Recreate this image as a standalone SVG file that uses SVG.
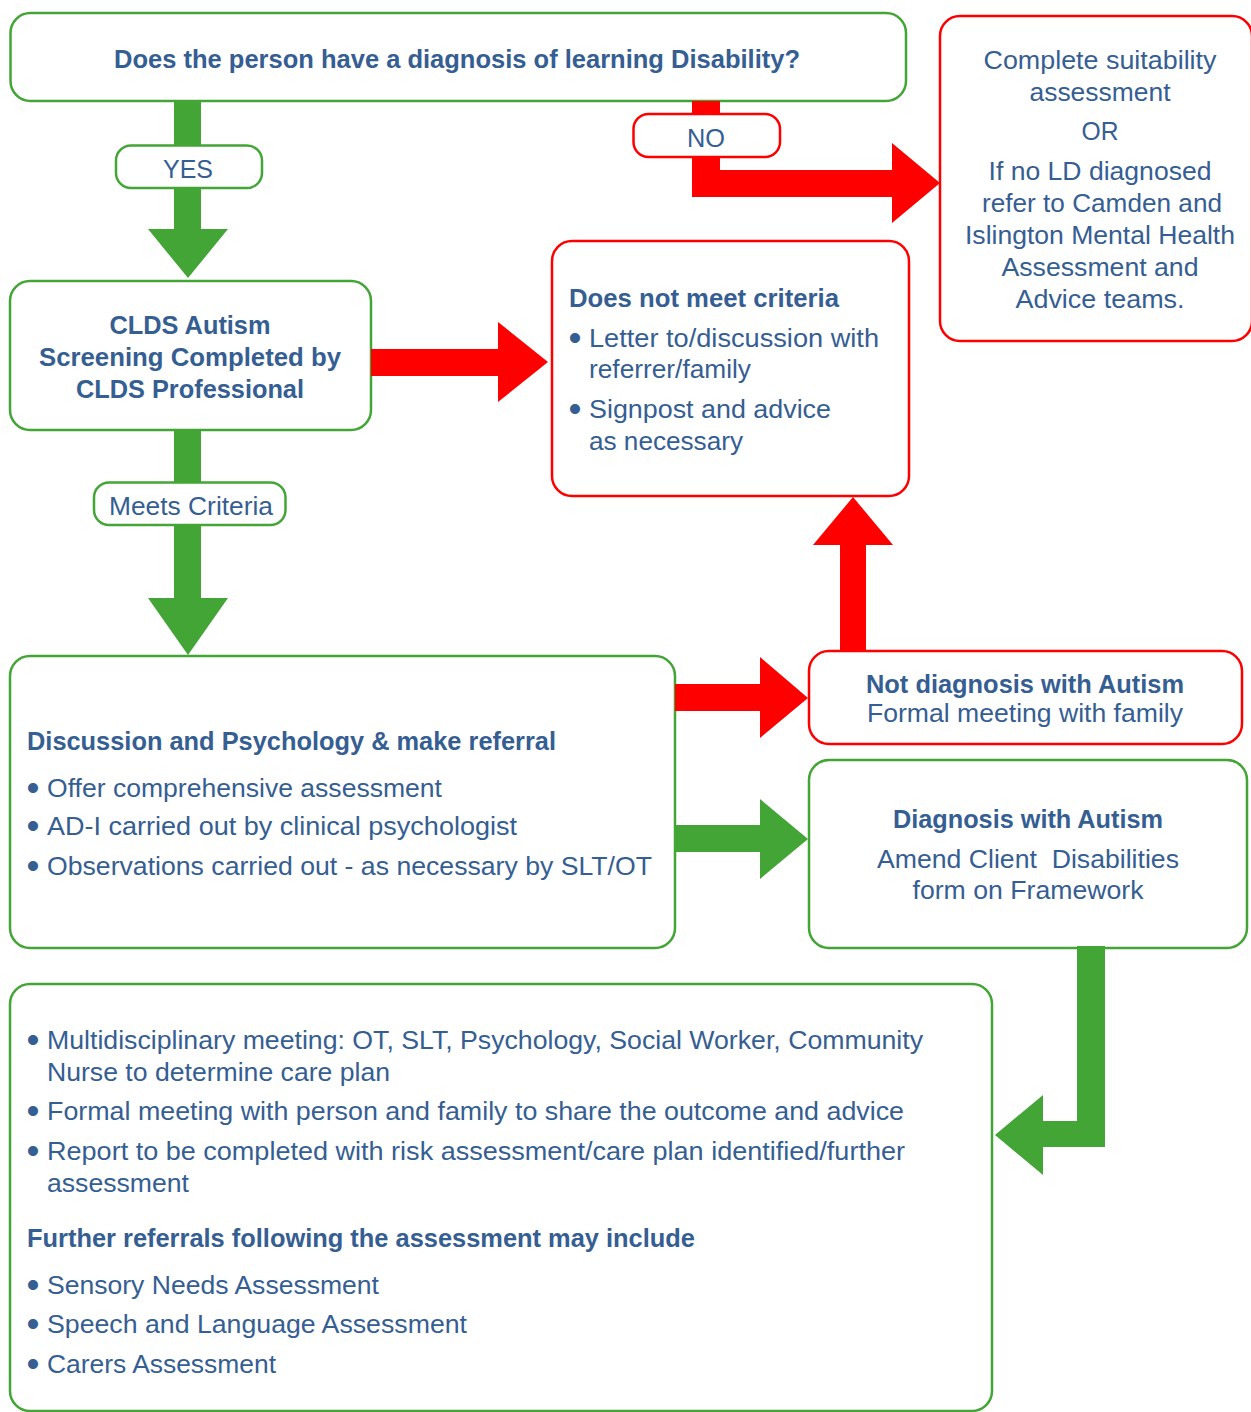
<svg xmlns="http://www.w3.org/2000/svg" width="1251" height="1412" viewBox="0 0 1251 1412">
<style>
.g{fill:#fff;stroke:#43A535;stroke-width:2.5}
.r{fill:#fff;stroke:#FF0000;stroke-width:2.5}
.ga{fill:#43A535}
.ra{fill:#FF0000}
text{font-family:"Liberation Sans",Arial,Helvetica,sans-serif;font-size:26.5px;fill:#355E92}
.b{font-weight:bold;font-size:25.5px}
.c{text-anchor:middle}
.bu{font-size:37px;text-anchor:middle}
</style>
<rect width="1251" height="1412" fill="#fff"/>

<g id="q-diagnosis">
<rect class="g" x="10.5" y="13" width="895.5" height="88" rx="20"/>
<text class="b c" x="457" y="68" textLength="686" lengthAdjust="spacingAndGlyphs">Does the person have a diagnosis of learning Disability?</text>
</g>

<g id="suitability">
<rect class="r" x="940" y="16" width="312" height="325" rx="20"/>
<text class="c" x="1100" y="69" textLength="233" lengthAdjust="spacingAndGlyphs">Complete suitability</text>
<text class="c" x="1100" y="101" textLength="141" lengthAdjust="spacingAndGlyphs">assessment</text>
<text class="c" x="1100" y="140" textLength="37" lengthAdjust="spacingAndGlyphs">OR</text>
<text class="c" x="1100" y="180" textLength="223" lengthAdjust="spacingAndGlyphs">If no LD diagnosed</text>
<text class="c" x="1102" y="212" textLength="240" lengthAdjust="spacingAndGlyphs">refer to Camden and</text>
<text class="c" x="1100" y="244" textLength="270" lengthAdjust="spacingAndGlyphs">Islington Mental Health</text>
<text class="c" x="1100" y="276" textLength="197" lengthAdjust="spacingAndGlyphs">Assessment and</text>
<text class="c" x="1100" y="308" textLength="169" lengthAdjust="spacingAndGlyphs">Advice teams.</text>
</g>

<g id="screening">
<rect class="g" x="10" y="281" width="361" height="149" rx="20"/>
<text class="b c" x="190" y="334" textLength="161" lengthAdjust="spacingAndGlyphs">CLDS Autism</text>
<text class="b c" x="190" y="366" textLength="302" lengthAdjust="spacingAndGlyphs">Screening Completed by</text>
<text class="b c" x="190" y="398" textLength="228" lengthAdjust="spacingAndGlyphs">CLDS Professional</text>
</g>

<g id="not-meet">
<rect class="r" x="552" y="241" width="357" height="255" rx="20"/>
<text class="b" x="569" y="307" textLength="270" lengthAdjust="spacingAndGlyphs">Does not meet criteria</text>
<text class="bu" x="575" y="350">•</text>
<text x="589" y="347" textLength="290" lengthAdjust="spacingAndGlyphs">Letter to/discussion with</text>
<text x="589" y="378" textLength="162" lengthAdjust="spacingAndGlyphs">referrer/family</text>
<text class="bu" x="575" y="421">•</text>
<text x="589" y="418" textLength="242" lengthAdjust="spacingAndGlyphs">Signpost and advice</text>
<text x="589" y="450" textLength="154" lengthAdjust="spacingAndGlyphs">as necessary</text>
</g>

<g id="discussion">
<rect class="g" x="10" y="656" width="665" height="292" rx="20"/>
<text class="b" x="27" y="750" textLength="529" lengthAdjust="spacingAndGlyphs">Discussion and Psychology &amp; make referral</text>
<text class="bu" x="33" y="800">•</text>
<text x="47" y="797" textLength="395" lengthAdjust="spacingAndGlyphs">Offer comprehensive assessment</text>
<text class="bu" x="33" y="838">•</text>
<text x="47" y="835" textLength="470" lengthAdjust="spacingAndGlyphs">AD-I carried out by clinical psychologist</text>
<text class="bu" x="33" y="878">•</text>
<text x="47" y="875" textLength="605" lengthAdjust="spacingAndGlyphs">Observations carried out - as necessary by SLT/OT</text>
</g>

<g id="not-diagnosed">
<rect class="r" x="809" y="651" width="433" height="93" rx="20"/>
<text class="b c" x="1025" y="693" textLength="318" lengthAdjust="spacingAndGlyphs">Not diagnosis with Autism</text>
<text class="c" x="1025" y="722" textLength="316" lengthAdjust="spacingAndGlyphs">Formal meeting with family</text>
</g>

<g id="diagnosed">
<rect class="g" x="809" y="760" width="438" height="188" rx="20"/>
<text class="b c" x="1028" y="828" textLength="270" lengthAdjust="spacingAndGlyphs">Diagnosis with Autism</text>
<text class="c" x="1028" y="868" textLength="302" lengthAdjust="spacingAndGlyphs" xml:space="preserve">Amend Client  Disabilities</text>
<text class="c" x="1028" y="899" textLength="231" lengthAdjust="spacingAndGlyphs">form on Framework</text>
</g>

<g id="outcome">
<rect class="g" x="10" y="984" width="982" height="427" rx="20"/>
<text class="bu" x="33" y="1052">•</text>
<text x="47" y="1049" textLength="876" lengthAdjust="spacingAndGlyphs">Multidisciplinary meeting: OT, SLT, Psychology, Social Worker, Community</text>
<text x="47" y="1081" textLength="343" lengthAdjust="spacingAndGlyphs">Nurse to determine care plan</text>
<text class="bu" x="33" y="1123">•</text>
<text x="47" y="1120" textLength="857" lengthAdjust="spacingAndGlyphs">Formal meeting with person and family to share the outcome and advice</text>
<text class="bu" x="33" y="1163">•</text>
<text x="47" y="1160" textLength="858" lengthAdjust="spacingAndGlyphs">Report to be completed with risk assessment/care plan identified/further</text>
<text x="47" y="1192" textLength="142" lengthAdjust="spacingAndGlyphs">assessment</text>
<text class="b" x="27" y="1247" textLength="668" lengthAdjust="spacingAndGlyphs">Further referrals following the assessment may include</text>
<text class="bu" x="33" y="1297">•</text>
<text x="47" y="1294" textLength="332" lengthAdjust="spacingAndGlyphs">Sensory Needs Assessment</text>
<text class="bu" x="33" y="1336">•</text>
<text x="47" y="1333" textLength="420" lengthAdjust="spacingAndGlyphs">Speech and Language Assessment</text>
<text class="bu" x="33" y="1376">•</text>
<text x="47" y="1373" textLength="229" lengthAdjust="spacingAndGlyphs">Carers Assessment</text>
</g>

<g id="connectors">
<path class="ga" d="M174,101 H201 V229 H228 L188,278 L148,229 H174 Z"/>
<path class="ga" d="M174,430 H201 V598 H228 L188,655 L148,598 H174 Z"/>
<path class="ra" d="M692,101 H720 V170 H892 V143 L940,183 L892,223 V197 H692 Z"/>
<path class="ra" d="M371,349 H498 V322 L548,362 L498,402 V376 H371 Z"/>
<path class="ra" d="M840,651 V545 H813 L853,497 L893,545 H866 V651 Z"/>
<path class="ra" d="M675,684 H760 V657 L808,698 L760,738 V711 H675 Z"/>
<path class="ga" d="M675,825 H760 V799 L808,839 L760,879 V852 H675 Z"/>
<path class="ga" d="M1077,946 H1105 V1147 H1043 V1175 L995,1135 L1043,1095 V1121 H1077 Z"/>
<g id="label-yes">
<rect class="g" x="116" y="145.5" width="146" height="42.5" rx="15"/>
<text class="c" x="188" y="178" textLength="50" lengthAdjust="spacingAndGlyphs">YES</text>
</g>
<g id="label-no">
<rect class="r" x="633.5" y="114" width="146.5" height="43" rx="15"/>
<text class="c" x="706" y="147" textLength="38" lengthAdjust="spacingAndGlyphs">NO</text>
</g>
<g id="label-meets">
<rect class="g" x="94" y="482.5" width="191.5" height="42.5" rx="15"/>
<text class="c" x="191" y="515" textLength="164" lengthAdjust="spacingAndGlyphs">Meets Criteria</text>
</g>
</g>
</svg>
